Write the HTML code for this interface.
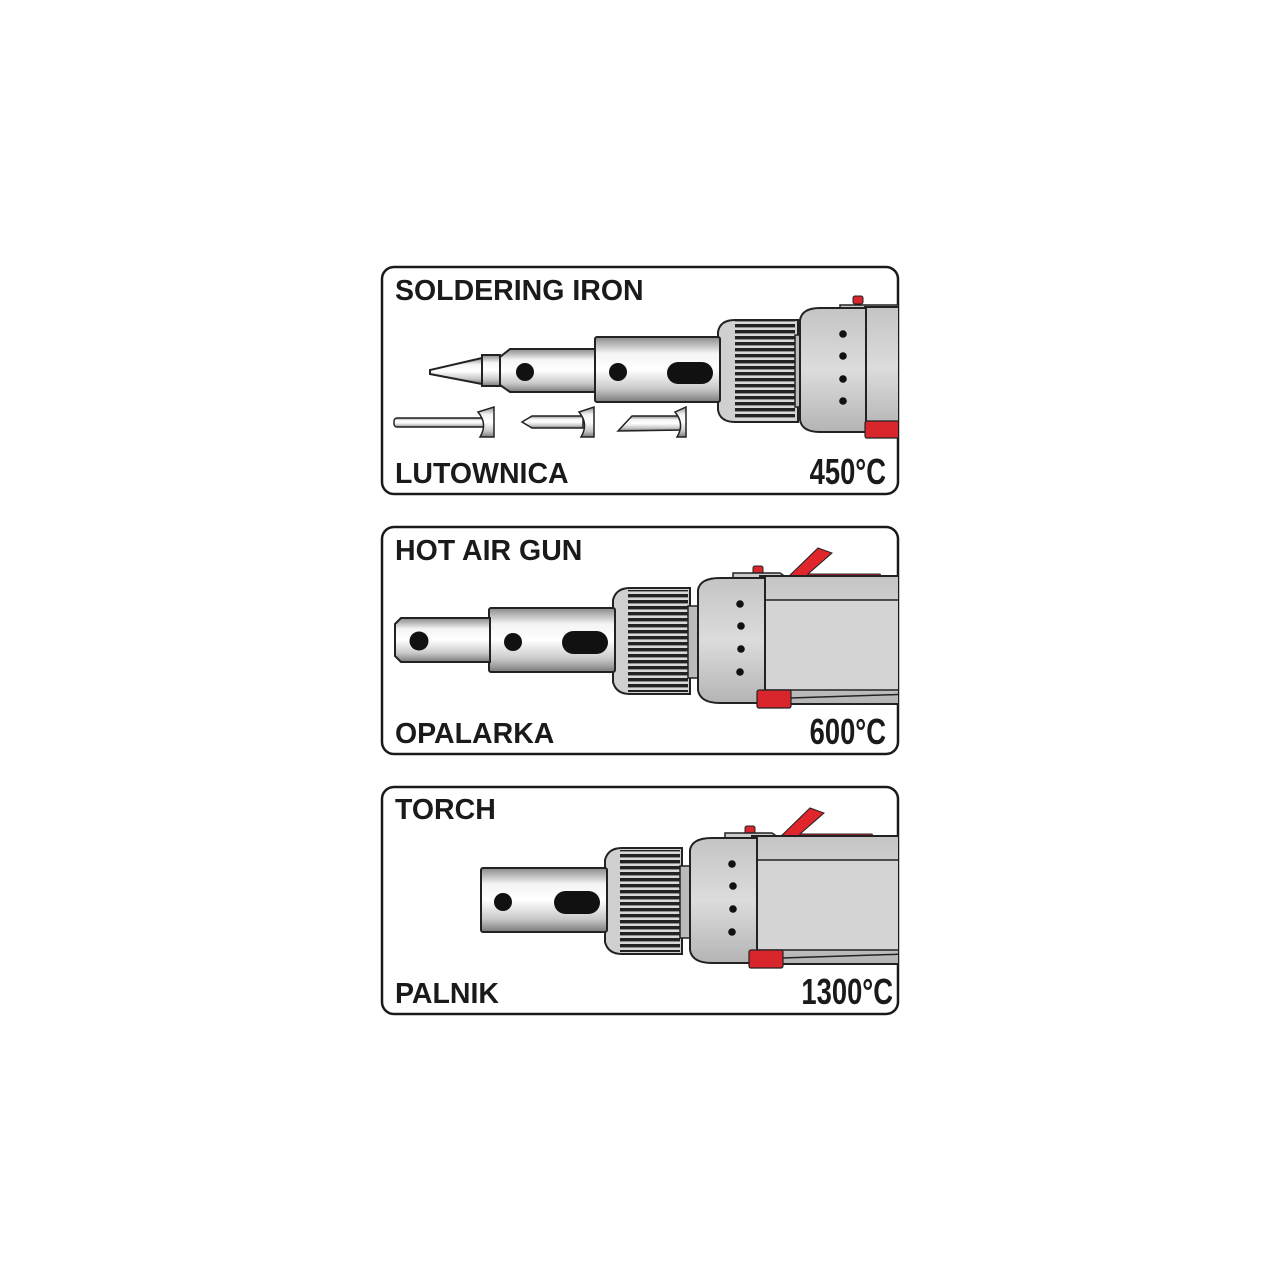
<!DOCTYPE html>
<html><head><meta charset="utf-8"><style>
html,body{margin:0;padding:0;background:#fff;}
svg{display:block;}
text{font-family:"Liberation Sans",sans-serif;font-weight:bold;fill:#1a1a1a;}
</style></head><body>
<svg width="1280" height="1280" viewBox="0 0 1280 1280" xmlns="http://www.w3.org/2000/svg">
<defs>
<linearGradient id="metal" x1="0" y1="0" x2="0" y2="1">
<stop offset="0" stop-color="#8a8a8a"/><stop offset="0.25" stop-color="#f4f4f4"/><stop offset="0.5" stop-color="#ffffff"/><stop offset="0.8" stop-color="#c8c8c8"/><stop offset="1" stop-color="#7a7a7a"/>
</linearGradient>
<linearGradient id="body" x1="0" y1="0" x2="0" y2="1">
<stop offset="0" stop-color="#c4c4c4"/><stop offset="0.5" stop-color="#dcdcdc"/><stop offset="1" stop-color="#b4b4b4"/>
</linearGradient>
<pattern id="knurl" width="10" height="6" patternUnits="userSpaceOnUse">
<rect width="10" height="6" fill="#d8d8d8"/><rect y="0" width="10" height="3.4" fill="#222"/>
</pattern>
<g id="gun">
<rect x="753" y="566" width="10" height="9" rx="2" fill="#d8262c" stroke="#222" stroke-width="1"/>
<polygon points="785,580 818,548 832,553 808,574 880,574 884,582" fill="#e0262c" stroke="#222" stroke-width="1"/>
<path d="M733,580 L733,573 L780,573 L790,580 Z" fill="#ccc" stroke="#222" stroke-width="1.5"/>
<path d="M613,600 Q616,588 630,588 L690,588 L690,694 L630,694 Q616,694 613,682 Z" fill="#d0d0d0" stroke="#222" stroke-width="2"/>
<rect x="628" y="590" width="60" height="102" fill="url(#knurl)"/>
<rect x="688" y="606" width="10" height="72" fill="#bbb" stroke="#222" stroke-width="1.5"/>
<path d="M760,576 L915,576 L915,704 L760,704 Z" fill="url(#body)" stroke="#222" stroke-width="2"/>
<path d="M765,600 L915,600 L915,690 L765,690 Z" fill="#d4d4d4" stroke="#222" stroke-width="1.5"/>
<path d="M698,590 Q700,578 720,578 L765,578 L765,703 L720,703 Q700,703 698,690 Z" fill="url(#body)" stroke="#222" stroke-width="2"/>
<circle cx="740" cy="604" r="3.8" fill="#111"/><circle cx="741" cy="626" r="3.8" fill="#111"/><circle cx="741" cy="649" r="3.8" fill="#111"/><circle cx="740" cy="672" r="3.8" fill="#111"/>
<path d="M790,698 L915,694" stroke="#222" stroke-width="1.5" fill="none"/>
<rect x="757" y="690" width="34" height="18" rx="2" fill="#d8262c" stroke="#222" stroke-width="1.2"/>
<rect x="489" y="608" width="126" height="64" rx="2" fill="url(#metal)" stroke="#222" stroke-width="2"/>
<rect x="562" y="631" width="46" height="23" rx="11.5" fill="#111"/>
</g>
</defs>

<rect x="382" y="267" width="516" height="227" rx="12" fill="#fff" stroke="#1a1a1a" stroke-width="2.5"/>
<rect x="382" y="527" width="516" height="227" rx="12" fill="#fff" stroke="#1a1a1a" stroke-width="2.5"/>
<rect x="382" y="787" width="516" height="227" rx="12" fill="#fff" stroke="#1a1a1a" stroke-width="2.5"/>

<g>
<clipPath id="c1"><rect x="382" y="267" width="516" height="227" rx="12"/></clipPath>
<g clip-path="url(#c1)">
<rect x="853" y="296" width="10" height="8" rx="2" fill="#d8262c" stroke="#222" stroke-width="1"/>
<path d="M840,305 L900,305 L900,310 L840,310 Z" fill="#ccc" stroke="#222" stroke-width="1.5"/>
<path d="M718,332 Q720,320 735,320 L798,320 L798,422 L735,422 Q720,422 718,410 Z" fill="#d0d0d0" stroke="#222" stroke-width="2"/>
<rect x="735" y="320" width="60" height="100" fill="url(#knurl)"/>
<rect x="795" y="335" width="9" height="72" fill="#bbb" stroke="#222" stroke-width="1.5"/>
<path d="M865,307 L905,307 L905,430 L865,430 Z" fill="url(#body)" stroke="#222" stroke-width="2"/>
<path d="M800,320 Q802,308 820,308 L866,308 L866,432 L820,432 Q802,432 800,420 Z" fill="url(#body)" stroke="#222" stroke-width="2"/>
<circle cx="843" cy="334" r="3.8" fill="#111"/><circle cx="843" cy="356" r="3.8" fill="#111"/><circle cx="843" cy="379" r="3.8" fill="#111"/><circle cx="843" cy="401" r="3.8" fill="#111"/>
<rect x="865" y="421" width="34" height="17" rx="2" fill="#d8262c" stroke="#222" stroke-width="1.2"/>
<rect x="595" y="337" width="125" height="65" rx="2" fill="url(#metal)" stroke="#222" stroke-width="2"/>
<rect x="667" y="362" width="46" height="22" rx="11" fill="#111"/>
<circle cx="618" cy="372" r="9" fill="#111"/>
<path d="M500,357 L510,349 L595,349 L595,392 L510,392 L500,385 Z" fill="url(#metal)" stroke="#222" stroke-width="2"/>
<circle cx="525" cy="372" r="9" fill="#111"/>
<rect x="482" y="355" width="18" height="31" fill="url(#metal)" stroke="#222" stroke-width="2"/>
<path d="M482,358 L430,370 L430,374 L482,384 Z" fill="url(#metal)" stroke="#222" stroke-width="2"/>
<rect x="394" y="418" width="96" height="9" rx="3" fill="url(#metal)" stroke="#222" stroke-width="1.5"/>
<path d="M478,412 Q488,424 480,437 L494,437 L494,407 Z" fill="url(#metal)" stroke="#222" stroke-width="1.5"/>
<path d="M522,422 L532,416 L583,416 L583,428 L532,428 Z" fill="url(#metal)" stroke="#222" stroke-width="1.5"/>
<path d="M579,412 Q589,424 581,437 L594,437 L594,407 Z" fill="url(#metal)" stroke="#222" stroke-width="1.5"/>
<path d="M618,431 L632,416 L682,416 L682,430 Z" fill="url(#metal)" stroke="#222" stroke-width="1.5"/>
<path d="M675,412 Q685,424 677,437 L686,437 L686,407 Z" fill="url(#metal)" stroke="#222" stroke-width="1.5"/>
</g>
</g>

<clipPath id="c2"><rect x="382" y="527" width="516" height="227" rx="12"/></clipPath>
<g clip-path="url(#c2)">
<use href="#gun"/>
<circle cx="513" cy="642" r="9" fill="#111"/>
<path d="M395,624 L401,618 L490,618 L490,662 L401,662 L395,656 Z" fill="url(#metal)" stroke="#222" stroke-width="2"/>
<circle cx="419" cy="641" r="9.5" fill="#111"/>
</g>

<clipPath id="c3"><rect x="382" y="787" width="516" height="227" rx="12"/></clipPath>
<g clip-path="url(#c3)">
<g transform="translate(-8,260)"><use href="#gun"/></g>
<circle cx="503" cy="902" r="9" fill="#111"/>
</g>

<text x="395" y="300" font-size="28.5">SOLDERING IRON</text>
<text x="395" y="483" font-size="28.5">LUTOWNICA</text>
<text x="395" y="560" font-size="28.5">HOT AIR GUN</text>
<text x="395" y="743" font-size="28.5">OPALARKA</text>
<text x="395" y="819" font-size="28.5">TORCH</text>
<text x="395" y="1003" font-size="28.5">PALNIK</text>

<g font-size="36">
<text x="886" y="484" text-anchor="end" transform="translate(886,0) scale(0.76,1) translate(-886,0)">450°C</text>
<text x="886" y="744" text-anchor="end" transform="translate(886,0) scale(0.76,1) translate(-886,0)">600°C</text>
<text x="893" y="1004" text-anchor="end" transform="translate(893,0) scale(0.76,1) translate(-893,0)">1300°C</text>
</g>
</svg>
</body></html>
